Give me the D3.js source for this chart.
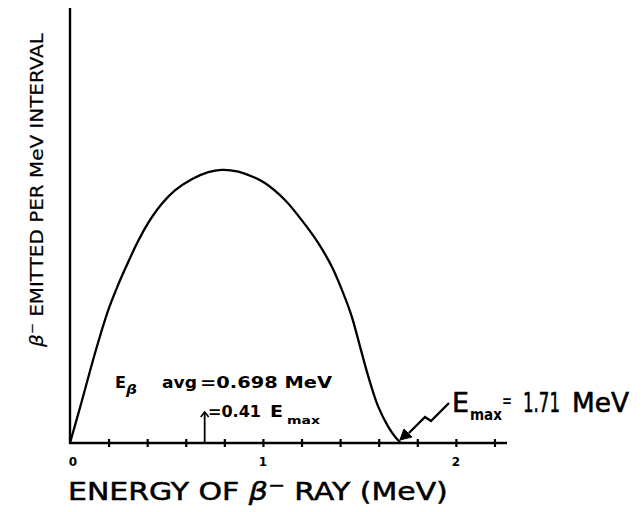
<!DOCTYPE html>
<html><head><meta charset="utf-8">
<script src="https://cdn.jsdelivr.net/npm/d3@7"></script>
<style>
html,body{margin:0;padding:0;background:#fff;}
svg{display:block;}
text{font-family:"DejaVu Sans",sans-serif;fill:#000;}
</style></head>
<body>
<svg id="chart" width="644" height="512"></svg>
<script>
// Beta spectrum (relative intensity, peak = 1)
const energy    = [0, 0.060, 0.110, 0.155, 0.200, 0.250, 0.300, 0.350, 0.400, 0.475, 0.544, 0.631, 0.717, 0.786, 0.872, 0.940, 1.010, 1.114, 1.200, 1.287, 1.356, 1.416, 1.460, 1.503, 1.546, 1.597, 1.649, 1.690, 1.715];
const intensity = [0, 0.150, 0.280, 0.390, 0.490, 0.580, 0.660, 0.735, 0.800, 0.875, 0.925, 0.966, 0.992, 1.000, 0.994, 0.977, 0.952, 0.890, 0.817, 0.732, 0.647, 0.549, 0.464, 0.354, 0.244, 0.134, 0.060, 0.018, 0.0];
const minorTicks = [0.2, 0.4, 0.6, 0.8, 1.0, 1.2, 1.4, 1.6, 1.8, 2.0, 2.2];
const tickLabelValues = [0, 1, 2];
const tickLabels = ["0", "1", "2"];
const eAvg = 0.698;
const eMax = 1.71;

const svg = d3.select("#chart");
const x = d3.scaleLinear().domain([0, 2.265]).range([70, 507]);
const y = d3.scaleLinear().domain([0, 1.593]).range([443, 8]);

// axes lines
svg.append("line").attr("x1", x(0)).attr("x2", x(0)).attr("y1", y(0)+1).attr("y2", y(1.593))
  .attr("stroke", "#000").attr("stroke-width", 2.4);
svg.append("line").attr("x1", x(0)-1).attr("x2", x(2.265)).attr("y1", y(0)).attr("y2", y(0))
  .attr("stroke", "#000").attr("stroke-width", 2.4);

// ticks crossing the axis
[4, -4].forEach(s => {
  const g = svg.append("g").attr("transform", `translate(0,${y(0)})`)
    .call(d3.axisBottom(x).tickValues(minorTicks).tickSize(s).tickFormat(""));
  g.select(".domain").remove();
  g.selectAll(".tick line").attr("stroke", "#000").attr("stroke-width", 2.2);
});

// tick labels
svg.selectAll("text.tl").data(tickLabelValues).enter().append("text")
  .attr("class", "tl")
  .attr("x", d => x(d) + (d === 0 ? 3 : 0))
  .attr("y", 466)
  .attr("text-anchor", "middle")
  .attr("font-size", 12).attr("font-weight", "bold")
  .text((d, i) => tickLabels[i]);

// curve
const line = d3.line().x(d => x(d[0])).y(d => y(d[1])).curve(d3.curveCatmullRom.alpha(0.5));
svg.append("path").datum(energy.map((e, i) => [e, intensity[i]]))
  .attr("d", line).attr("fill", "none").attr("stroke", "#000").attr("stroke-width", 2.3)
  .attr("stroke-linejoin", "round");

// average energy arrow
const ax = x(eAvg);
svg.append("line").attr("x1", ax).attr("x2", ax).attr("y1", y(0)).attr("y2", 413)
  .attr("stroke", "#000").attr("stroke-width", 1.8);
svg.append("path").attr("d", `M${ax-4},${417} L${ax},${412} L${ax+4},${417}`)
  .attr("fill", "none").attr("stroke", "#000").attr("stroke-width", 1.6);

// text helper: fits text horizontally into a target width with a scale transform
function txt(str, px, py, size, width, opts = {}) {
  const t = svg.append("text").attr("font-size", size).text(str);
  if (opts.weight) t.attr("font-weight", opts.weight);
  if (opts.style) t.attr("font-style", opts.style);
  if (opts.stroke) t.attr("stroke", "#000").attr("stroke-width", opts.stroke);
  const w = t.node().getComputedTextLength();
  const sx = width ? width / w : 1;
  t.attr("transform", `translate(${px},${py}) scale(${sx},1)`);
  return t;
}
txt("E", 115, 388, 15, 11, {weight: "bold"});
txt("β", 126, 394, 13, 11, {weight: "bold", style: "italic"});
txt("avg", 162, 388, 15, 35, {weight: "bold"});
txt("=0.698 MeV", 200, 388, 15, 132, {weight: "bold"});
txt("=0.41", 208, 417, 15, 53, {weight: "bold"});
txt("E", 270, 417, 15, 13, {weight: "bold"});
txt("max", 287, 424, 11, 33, {weight: "bold"});

// Emax label and zigzag arrow
const ex = x(eMax), ey = y(0);
svg.append("path")
  .attr("d", `M449,403 L431,421 L425,417 L${ex+9},${ey-10}`)
  .attr("fill", "none").attr("stroke", "#000").attr("stroke-width", 2.4).attr("stroke-linejoin", "miter");
svg.append("path")
  .attr("d", `M${ex},${ey-3} L${ex+4},${ey-14} L${ex+8},${ey-10} L${ex+12},${ey-6} Z`)
  .attr("fill", "#000").attr("stroke", "#000").attr("stroke-width", 1);
txt("E", 452, 412, 27, 17, {stroke: 0.6});
txt("max", 470, 420, 15, 32, {weight: "bold"});
txt("=", 502, 406, 16, 10, {weight: "bold"});
txt("1.71", 523, 412, 27, 37, {stroke: 0.6});
txt("MeV", 572, 412, 27, 57, {stroke: 0.6});

// x axis label
const xl = svg.append("text").attr("font-size", 24).attr("stroke", "#000").attr("stroke-width", 0.5);
xl.append("tspan").text("ENERGY OF ");
xl.append("tspan").attr("font-style", "italic").text("β");
xl.append("tspan").attr("dy", -9).attr("font-size", 16).text("−");
xl.append("tspan").attr("dy", 9).text(" RAY (MeV)");
{
  const w = xl.node().getComputedTextLength();
  xl.attr("transform", `translate(68,500) scale(${380 / w},1)`);
}

// y axis label
const yl = svg.append("text").attr("font-size", 18).attr("stroke", "#000").attr("stroke-width", 0.2);
yl.append("tspan").attr("font-style", "italic").text("β");
yl.append("tspan").attr("dy", -7).attr("font-size", 12).text("−");
yl.append("tspan").attr("dy", 7).text(" EMITTED PER MeV INTERVAL");
{
  const w = yl.node().getComputedTextLength();
  yl.attr("transform", `translate(43,347) rotate(-90) scale(${314 / w},1)`);
}
</script>
</body></html>
